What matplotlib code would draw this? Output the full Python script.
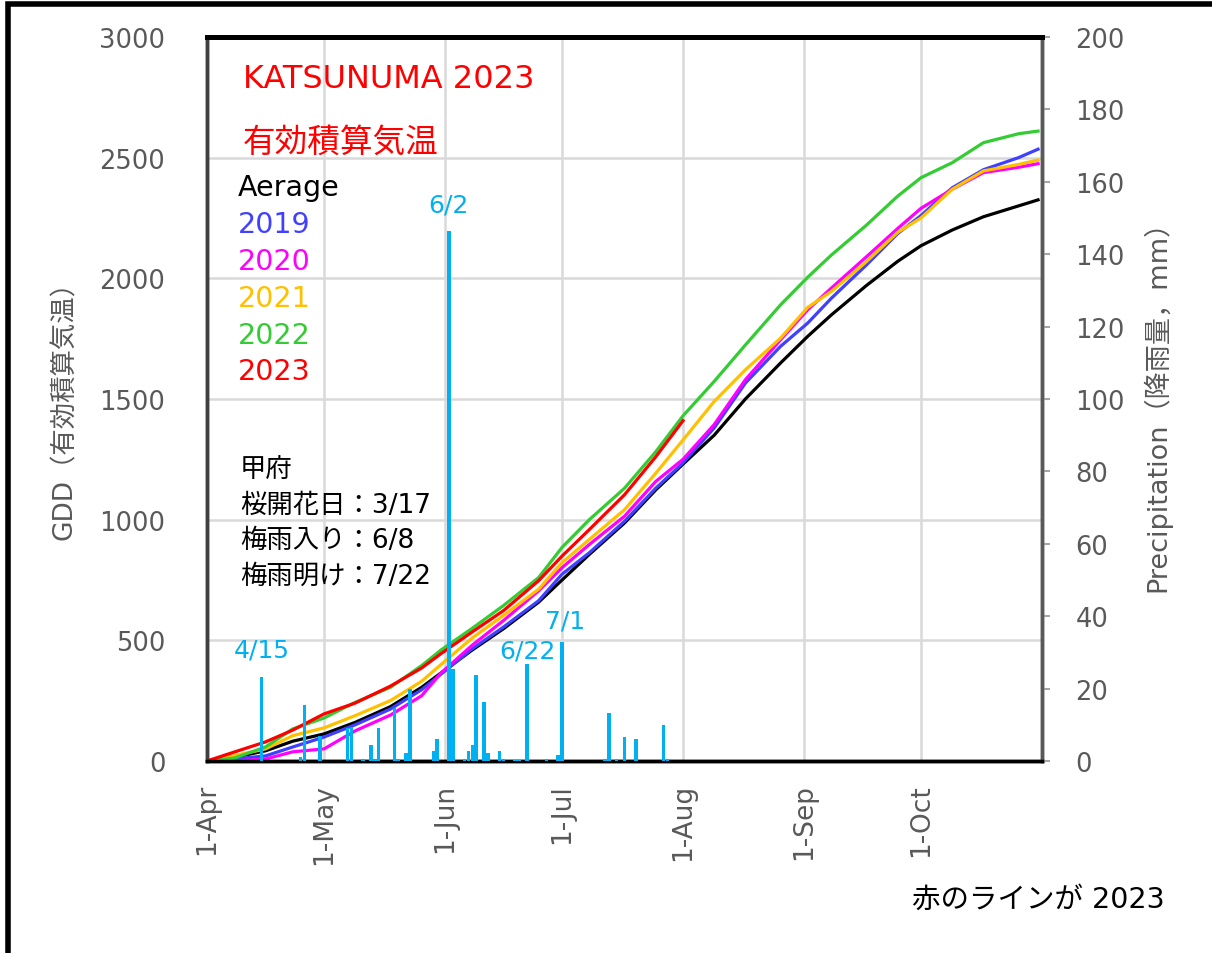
import matplotlib.pyplot as plt
import matplotlib.dates as mdates
from matplotlib.patches import Rectangle
import pandas as pd

plt.rcParams['font.family'] = ['DejaVu Sans', 'Noto Sans CJK JP']

# 有効積算気温 (GDD) readings, season 2023 calendar
gdd_dates = ['04-01', '04-08', '04-16', '04-23', '05-01', '05-09', '05-18', '05-26',
             '05-31', '06-08', '06-16', '06-25', '07-01', '07-08', '07-17', '07-25',
             '08-01', '08-09', '08-17', '08-26', '09-02', '09-08', '09-17', '09-25',
             '10-01', '10-09', '10-17', '10-26', '10-31']
gdd_avg = [0, 15, 42, 82, 112, 160, 225, 305, 365, 460, 548, 658, 750, 856, 986, 1123,
           1230, 1350, 1500, 1649, 1760, 1848, 1970, 2070, 2135, 2200, 2255, 2300, 2325]
gdd_2019 = [0, 8, 21, 58, 99, 150, 215, 295, 360, 465, 555, 664, 774, 863, 993, 1130,
            1235, 1380, 1566, 1718, 1815, 1917, 2055, 2185, 2260, 2375, 2450, 2500, 2535]
gdd_2020 = [0, 0, 8, 38, 50, 125, 190, 270, 365, 480, 582, 705, 801, 897, 1014, 1158,
            1250, 1394, 1580, 1745, 1870, 1959, 2089, 2206, 2290, 2369, 2438, 2460, 2475]
gdd_2021 = [0, 22, 50, 105, 137, 188, 250, 330, 400, 510, 603, 712, 822, 918, 1041, 1192,
            1330, 1490, 1621, 1752, 1880, 1945, 2069, 2190, 2250, 2369, 2445, 2472, 2490]
gdd_2022 = [0, 12, 58, 133, 178, 243, 305, 395, 460, 550, 644, 760, 885, 1000, 1130, 1281,
            1430, 1573, 1724, 1890, 2005, 2096, 2220, 2340, 2417, 2479, 2562, 2599, 2610]
gdd_2023 = [0, 37, 79, 128, 195, 240, 310, 385, 445, 535, 623, 747, 849, 959, 1103, 1260,
            1410]

# 降雨量 (mm) 2023
rain_dates = ['04-15', '04-25', '04-26', '04-30', '05-07', '05-08', '05-11', '05-13',
              '05-14', '05-15', '05-19', '05-20', '05-22', '05-23', '05-29', '05-30',
              '06-02', '06-03', '06-06', '06-07', '06-08', '06-09', '06-11', '06-12',
              '06-15', '06-16', '06-19', '06-20', '06-22', '06-27', '06-30', '07-01',
              '07-12', '07-13', '07-15', '07-17', '07-20', '07-27', '07-28']
rain_mm = [23.2, 1.0, 15.5, 7.0, 9.0, 9.5, 0.5, 4.5,
           0.5, 9.1, 14.6, 0.5, 2.2, 20.0, 2.8, 6.1,
           146.5, 25.4, 0.5, 2.8, 4.4, 23.8, 16.3, 2.2,
           2.8, 0.5, 0.3, 0.3, 26.8, 0.5, 1.7, 32.9,
           0.5, 13.2, 0.5, 6.6, 6.1, 10.0, 0.5]

peak_dates = ['04-15', '06-02', '06-22', '07-01']
peak_labels = ['4/15', '6/2', '6/22', '7/1']
peak_offsets = [(0, 11), (0, 10), (0, 1), (2, 7)]

series_names = ['Aerage', '2019', '2020', '2021', '2022', '2023']
series_colors = ['black', '#4040FF', '#FF00FF', '#FFC000', '#33CC33', '#FF0000']

notes = ['甲府', '桜開花日：3/17', '梅雨入り：6/8', '梅雨明け：7/22']


def to_dt(lst):
    return pd.to_datetime(['2023-' + d for d in lst])


gray = '#595959'
blue_bar = '#00B0F0'

fig = plt.figure(figsize=(12.12, 9.54), dpi=100)
ax = fig.add_axes([0.1708, 0.2013, 0.6889, 0.7589])

x_gdd = to_dt(gdd_dates)
all_series = [gdd_avg, gdd_2019, gdd_2020, gdd_2021, gdd_2022, gdd_2023]
for vals, col in zip(all_series, series_colors):
    ax.plot(x_gdd[:len(vals)], vals, color=col, lw=2.3, zorder=3)

ax.set_xlim(pd.Timestamp('2023-04-01'), pd.Timestamp('2023-11-01'))
ax.set_ylim(0, 3000)
ax.set_yticks(range(0, 3001, 500))
ax.xaxis.set_major_locator(mdates.MonthLocator(bymonth=range(4, 11)))
ax.xaxis.set_major_formatter(mdates.DateFormatter('1-%b'))
ax.grid(True, color='#D9D9D9', lw=1.8)
ax.set_axisbelow(True)
ax.tick_params(axis='y', length=0, pad=30, labelsize=18.5, labelcolor=gray)
ax.tick_params(axis='x', length=0, pad=16, labelsize=19, labelcolor=gray,
               labelrotation=90)
ax.set_ylabel('GDD（有効積算気温）', fontsize=19, color=gray)
ax.yaxis.set_label_coords(-0.155, 0.495)

# precipitation bars on right axis
ax2 = ax.twinx()
x_rain = to_dt(rain_dates)
ax2.bar(x_rain, rain_mm, width=0.9, color=blue_bar, zorder=4)
ax2.set_ylim(0, 200)
ax2.set_yticks(range(0, 201, 20))
ax2.tick_params(axis='y', length=6, width=1.5, color='#A6A6A6', pad=18,
                labelsize=18.5, labelcolor=gray)
ax2.set_ylabel('Precipitation（降雨量，mm）', fontsize=19.5, color=gray)
ax2.yaxis.set_label_coords(1.12, 0.501)

rain_lookup = dict(zip(rain_dates, rain_mm))
for d, lab, off in zip(peak_dates, peak_labels, peak_offsets):
    ax2.annotate(lab, (pd.Timestamp('2023-' + d), rain_lookup[d]), xytext=off,
                 textcoords='offset points', ha='center', va='bottom',
                 fontsize=18, color=blue_bar)

for a in (ax, ax2):
    a.spines['top'].set_color('black')
    a.spines['top'].set_linewidth(3.5)
    a.spines['bottom'].set_color('black')
    a.spines['bottom'].set_linewidth(2.5)
    a.spines['left'].set_color('#404040')
    a.spines['left'].set_linewidth(2.5)
    a.spines['right'].set_color('#595959')
    a.spines['right'].set_linewidth(2.5)

# titles and colour key
ax.text(0.043, 0.942, 'KATSUNUMA 2023', transform=ax.transAxes, color='red',
        fontsize=23, va='center', ha='left')
ax.text(0.043, 0.856, '有効積算気温', transform=ax.transAxes, color='red',
        fontsize=23.5, va='center', ha='left')
for i, (name, col) in enumerate(zip(series_names, series_colors)):
    ax.text(0.037, 0.793 - i * 0.051, name, transform=ax.transAxes, color=col,
            fontsize=20.5, va='center', ha='left')

for i, line in enumerate(notes):
    ax.text(0.0395, 0.403 - i * 0.049, line, transform=ax.transAxes, color='black',
            fontsize=19, va='center', ha='left')

fig.text(0.961, 0.0566, '赤のラインが 2023', ha='right', va='center', fontsize=20.5,
         color='black')

# outer frame
fig.patches.append(Rectangle((0.0066, -0.05), 1.1, 1.0448, transform=fig.transFigure,
                             fill=False, ec='black', lw=4))

fig.savefig('out.png', dpi=100)
